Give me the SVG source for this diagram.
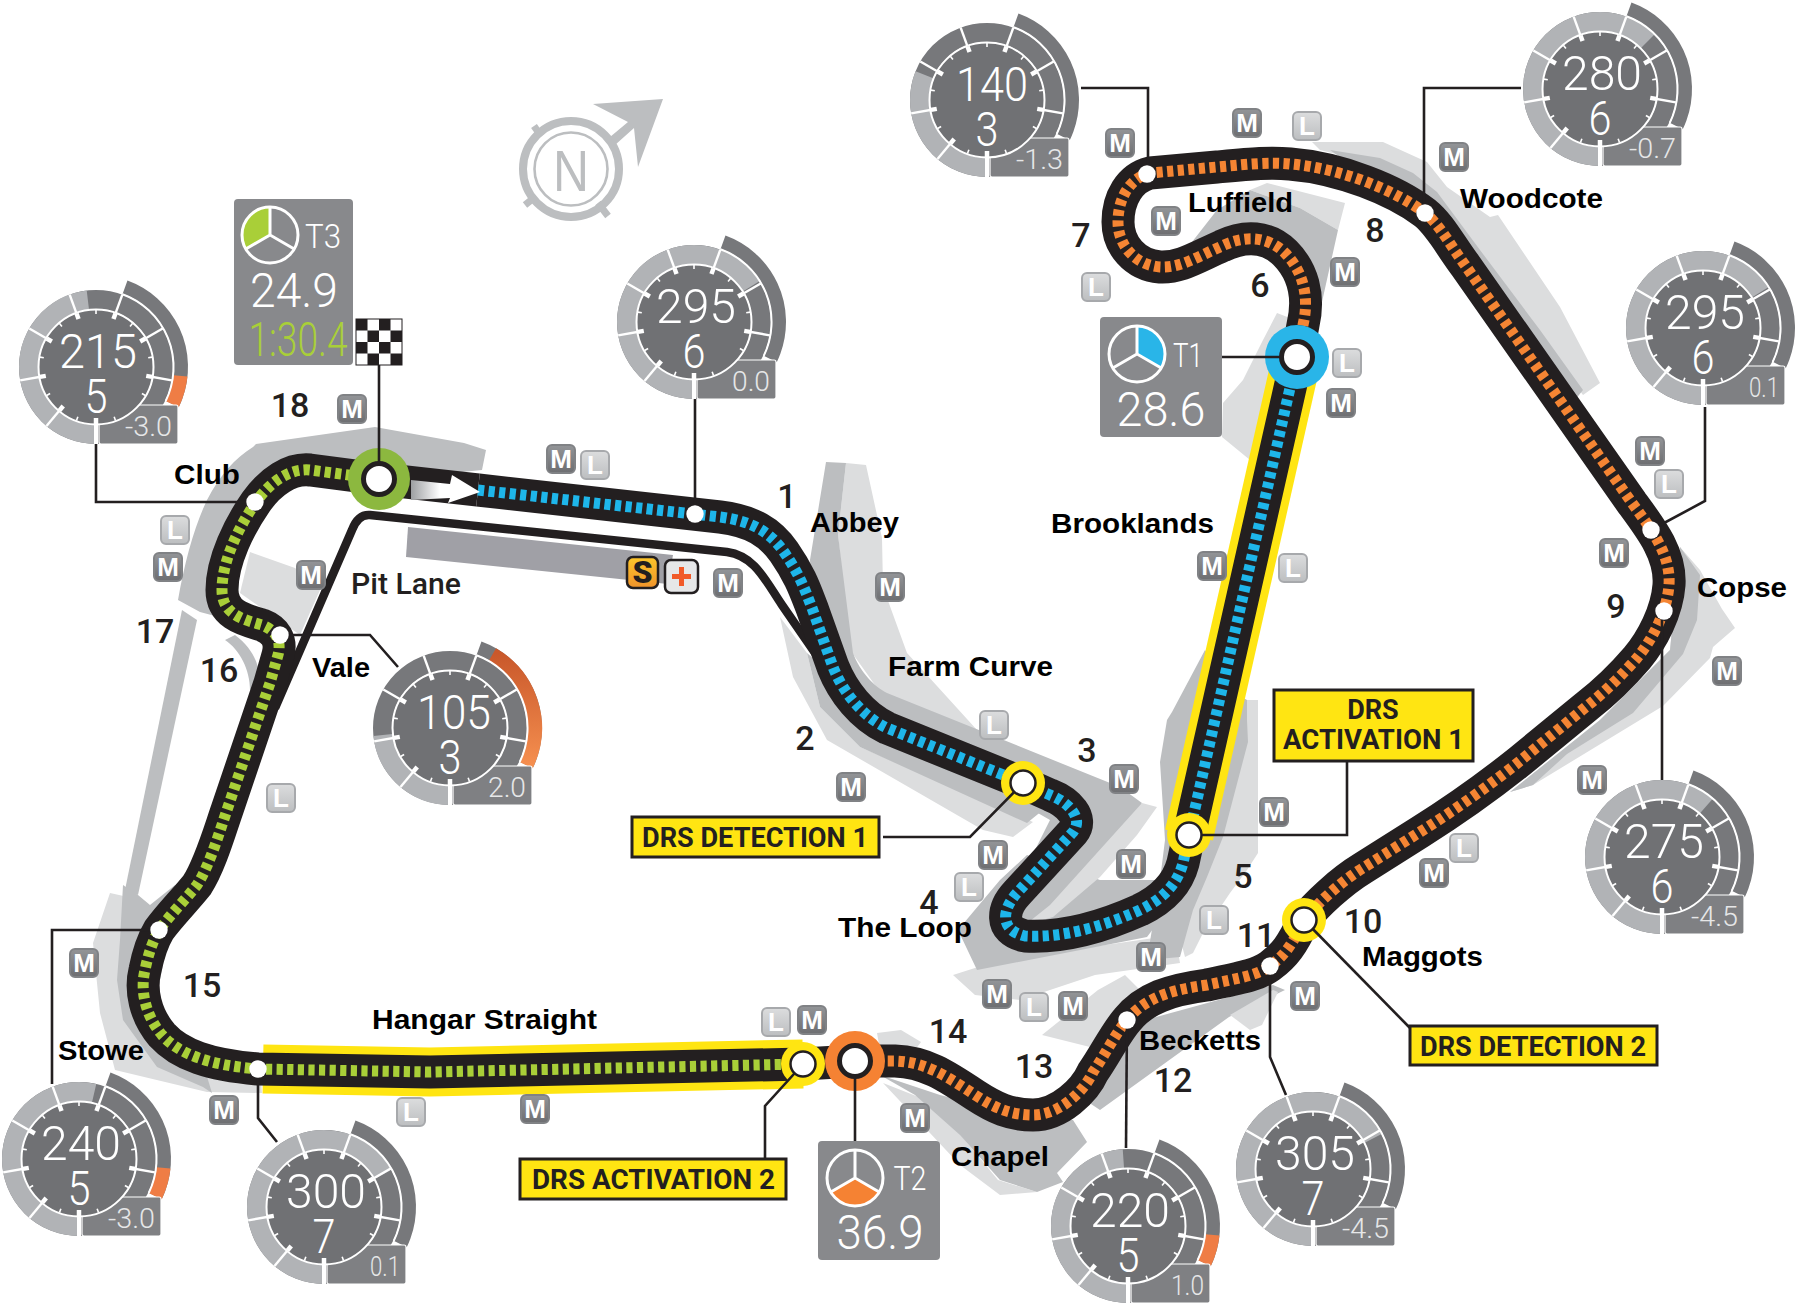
<svg xmlns="http://www.w3.org/2000/svg" width="1799" height="1306" viewBox="0 0 1799 1306">
<style>
.dk{fill:#bcbec0}.lt{fill:#dcddde}
.bed{fill:none;stroke:#231f20;stroke-width:33;stroke-linejoin:round}
.drs{fill:none;stroke:#ffe512;stroke-width:49}
.dash{fill:none;stroke-width:11;stroke-dasharray:6.200 4.400}
.blue{stroke:#1eb6ea}.orange{stroke:#f58533}.green{stroke:#a9cf38}
.pit{fill:none;stroke:#231f20;stroke-width:8.5;stroke-linejoin:round}
.ld{fill:none;stroke:#231f20;stroke-width:2.6;stroke-linejoin:miter}
.w{fill:#fff}.wr{fill:#fff;stroke:#231f20;stroke-width:5}.wd{fill:#fff;stroke:#231f20;stroke-width:2.5}
.nm{font-family:"Liberation Sans",Arial,sans-serif;font-weight:700;font-size:28.5px;fill:#000}
.num{font-family:Roboto,"Liberation Sans",sans-serif;font-weight:500;font-size:34px;fill:#231f20;text-anchor:middle}
.pl{font-family:Roboto,"Liberation Sans",sans-serif;font-weight:500;font-size:29px;fill:#231f20}
.dl{font-family:Roboto,"Liberation Sans",sans-serif;font-weight:700;font-size:27px;fill:#231f20}
.dbox{fill:#ffe512;stroke:#231f20;stroke-width:3}
.tyre text{font-family:"Liberation Sans",Arial,sans-serif;font-weight:700;font-size:26px;fill:#fff;text-anchor:middle}
.lcd{font-family:Roboto,"Liberation Sans",sans-serif;font-weight:300;font-size:49px;fill:#fff;text-anchor:middle}
.val{font-family:Roboto,"Liberation Sans",sans-serif;font-weight:300;font-size:27px;fill:#e6e7e8;text-anchor:end}
.sm{font-size:34px}
.ring{fill:none;stroke:#77787b;stroke-width:19}
.lit{fill:none;stroke:#b1b3b6;stroke-width:19}
.band{fill:none;stroke:#77787b;stroke-width:14}
.hot{fill:none;stroke:#ef7d45;stroke-width:14}
.sep{stroke:#fff;stroke-width:2.4}
.maj{stroke:#fff;stroke-width:4.5}
.min{stroke:#fff;stroke-width:1.6}
.disc{fill:#707174;stroke:#fff;stroke-width:2}
.vbox{fill:#7f8083;stroke:#fff;stroke-width:1.2}
.tbox{fill:#88898c}
.star{fill:none;stroke:#fff;stroke-width:3}
.cmp{fill:none;stroke:#bcbec0}
</style>
<defs>
<linearGradient id="fadeW" gradientUnits="userSpaceOnUse" x1="411" y1="0" x2="440" y2="0"><stop offset="0" stop-color="#9d9fa2"/><stop offset="1" stop-color="#fff"/></linearGradient>
<linearGradient id="gM" x1="0" y1="0" x2="0" y2="1"><stop offset="0" stop-color="#939598"/><stop offset="1" stop-color="#6d6e71"/></linearGradient>
<linearGradient id="gL" x1="0" y1="0" x2="0" y2="1"><stop offset="0" stop-color="#dcddde"/><stop offset="1" stop-color="#bcbec0"/></linearGradient>
<linearGradient id="gS" x1="0" y1="0" x2="0" y2="1"><stop offset="0" stop-color="#fdc62a"/><stop offset="1" stop-color="#f0932b"/></linearGradient>
<linearGradient id="gHot" gradientUnits="userSpaceOnUse" x1="0" y1="-74" x2="0" y2="37"><stop offset="0" stop-color="#c9582b"/><stop offset="1" stop-color="#f58f4f"/></linearGradient>
<rect id="tm" x="-14" y="-14" width="28" height="28" rx="5" fill="url(#gM)" stroke="#808285" stroke-width="2"/>
<rect id="tl" x="-14" y="-14" width="28" height="28" rx="5" fill="url(#gL)" stroke="#a7a9ac" stroke-width="2"/>
<path id="s1" d="M478 490L720 517C752 521 770 532 784 552C800 575 805 590 812 608L833 667C843 692 862 716 887 728L1023 783L1050 795C1068 802 1084 818 1073 832L1017 893C1003 908 998 930 1025 936C1060 938 1100 928 1140 910C1165 898 1178 882 1183 863L1189 835L1297 357"/>
<path id="s2" d="M1297 357L1303 325C1310 295 1302 270 1285 253C1268 236 1245 235 1222 246C1195 258 1180 268 1160 267C1135 265 1118 245 1118 222C1118 198 1130 178 1150 173L1217 167C1250 164 1270 162 1290 164C1340 168 1395 190 1425 213C1440 225 1450 245 1465 265L1632 503C1652 530 1671 555 1669 585C1667 612 1652 640 1637 658C1625 672 1605 692 1587 706L1520 761C1490 785 1455 810 1420 832L1363 868C1340 882 1316 905 1304 920C1292 945 1285 955 1270 966C1258 975 1240 978 1207 985C1170 990 1145 998 1127 1020C1115 1034 1105 1055 1093 1072C1085 1090 1060 1115 1033 1115C1010 1115 995 1108 975 1095C945 1075 925 1062 895 1061L855 1061"/>
<path id="s3" d="M855 1061L803 1064L430 1072L258 1069C210 1065 180 1055 162 1035C145 1015 140 990 145 970C148 955 153 940 159 930C170 915 185 900 197 885C210 865 220 830 227 810L270 683L278 655C282 640 275 630 262 625C245 620 222 615 222 590C222 560 240 525 256 502C270 482 290 468 310 470L379 479"/>
<g id="g-under"><circle class="band" r="85" pathLength="360" stroke-dasharray="96 360" transform="rotate(-70)"/><circle class="ring" r="67.5"/></g>
<g id="g-top">
<path d="M26.5 -72.8A77.5 77.5 0 0 1 69.7 34" fill="none" stroke="#fff" stroke-width="2"/>
<rect class="vbox" x="3" y="38" width="79" height="39" rx="2"/>
<line x1="0" y1="50" x2="0" y2="77" stroke="#fff" stroke-width="4"/>
<line class="sep" y1="-52" y2="-77" transform="rotate(220)"/><line class="sep" y1="-52" y2="-77" transform="rotate(260)"/><line class="sep" y1="-52" y2="-77" transform="rotate(300)"/><line class="sep" y1="-52" y2="-77" transform="rotate(340)"/><line class="sep" y1="-52" y2="-77" transform="rotate(20)"/><line class="sep" y1="-52" y2="-77" transform="rotate(60)"/><line class="sep" y1="-52" y2="-77" transform="rotate(100)"/>
<circle class="disc" r="57.5"/>
<line class="maj" y1="-51" y2="-57" transform="rotate(220)"/><line class="maj" y1="-51" y2="-57" transform="rotate(260)"/><line class="maj" y1="-51" y2="-57" transform="rotate(300)"/><line class="maj" y1="-51" y2="-57" transform="rotate(340)"/><line class="maj" y1="-51" y2="-57" transform="rotate(20)"/><line class="maj" y1="-51" y2="-57" transform="rotate(60)"/><line class="maj" y1="-51" y2="-57" transform="rotate(100)"/><line class="maj" y1="-51" y2="-57" transform="rotate(180)"/>
<line class="min" y1="-53" y2="-57" transform="rotate(200)"/><line class="min" y1="-53" y2="-57" transform="rotate(240)"/><line class="min" y1="-53" y2="-57" transform="rotate(280)"/><line class="min" y1="-53" y2="-57" transform="rotate(320)"/><line class="min" y1="-53" y2="-57"/><line class="min" y1="-53" y2="-57" transform="rotate(40)"/><line class="min" y1="-53" y2="-57" transform="rotate(80)"/><line class="min" y1="-53" y2="-57" transform="rotate(120)"/><line class="min" y1="-53" y2="-57" transform="rotate(160)"/>
</g>
<path id="g-hot" d="M84.5 8.9A85 85 0 0 1 76.4 37.3"/>
<g id="star"><circle class="star" r="28"/><path class="star" d="M0 -28V0L24.2 14M0 0L-24.2 14"/></g>
</defs>

<g id="runoff">
<path class="lt" d="M250 552L295 568L320 590L300 635L240 593Z"/>
<path class="dk" d="M178 600C185 560 195 525 207 500C220 475 235 458 253 447L256 444L375 427L464 443L486 450L482 470L380 480L310 470L256 502L222 590L230 620L200 612Z"/>
<path class="dk" d="M182 610L197 620L138 895L125 890Z"/>
<path class="dk" d="M235 635C255 650 262 670 258 685L250 690C250 670 240 650 225 640Z"/>
<path class="lt" d="M110 893L128 897L140 930L150 1000L200 1060L260 1070L262 1093L207 1092L115 1070L100 1013L93 943Z"/>
<path class="dk" d="M123 885L138 895L150 905L175 885L170 930L150 1030L205 1070L212 1093L203 1087L157 1067L123 1020L117 980L120 940Z"/>
<path class="lt" d="M877 1033L901 1030L921 1042L915 1050L880 1050Z"/>
<path class="lt" d="M883 1083L934 1103L998 1180L1037 1192L1000 1195L960 1165Z"/>
<path class="dk" d="M880 1075L940 1095L1000 1110L1073 1120L1087 1142L1057 1173L1063 1182L1037 1192L1000 1180L960 1135L915 1095Z"/>
<path class="dk" d="M1127 1025L1273 985L1285 990L1229 1017L1100 1110L1085 1100Z"/>
<path class="lt" d="M1230 1015L1273 990L1278 992L1262 1025L1250 1030Z"/>
<path class="lt" d="M1042 1035L1098 990L1125 975L1140 990L1120 1010L1090 1047Z"/>
<path class="lt" d="M953 975L975 995L1020 1000L1095 975L1180 963L1175 935L1000 960Z"/>
<path class="dk" d="M1027 855L1000 880L958 930L977 970L1147 937L1190 880L1100 880Z"/>
<path class="lt" d="M866 465L882 538L883 587L907 653L977 730L1130 795L1060 800L900 720L850 650L838 535L846 463Z"/>
<path class="dk" d="M826 462L846 463L838 535L853 653C860 672 875 687 887 693L1120 787L1142 803L1120 840L1085 875L1050 905L1030 920L1010 900L1050 820L980 780L860 720L815 640L810 560Z"/>
<path class="lt" d="M1142 803L1157 807L1137 835L1100 877L1053 917L1025 925L1050 905Z"/>
<path class="lt" d="M780 617L793 677L827 740L983 830L1013 837L1033 822L860 747L820 707L807 653Z"/>
<path class="dk" d="M807 653L820 707L860 747L1027 823L1043 810L900 740L850 690Z"/>
<path class="lt" d="M1258 700L1258 853L1247 870L1230 893L1203 933L1193 953L1185 957L1170 900L1230 780L1235 700Z"/>
<path class="dk" d="M1247 700L1247 720L1248 742L1223 837L1207 877L1193 910L1180 957L1147 960L1160 880L1165 840L1160 762L1167 720L1172 712L1205 650L1230 690Z"/>
<path class="lt" d="M1277 313L1263 340L1243 380L1223 403L1222 437L1250 460L1290 400L1295 320Z"/>
<path class="lt" d="M1267 183L1345 203L1338 230L1300 208L1250 190Z"/>
<path class="dk" d="M1192 242L1217 210L1250 190L1300 208L1338 230L1318 320L1305 330L1300 270L1270 240L1240 235Z"/>
<path class="lt" d="M1312 142L1383 142L1427 162L1447 187L1490 217L1498 215L1560 307L1600 383L1583 395L1470 250L1400 170L1320 150Z"/>
<path class="dk" d="M1330 150L1380 158L1413 173L1437 192L1480 250L1540 330L1583 390L1575 400L1400 200Z"/>
<path class="lt" d="M1680 547L1700 570L1722 609L1735 628L1713 647L1710 658L1663 706L1533 785L1510 792L1600 720L1670 650Z"/>
<path class="dk" d="M1680 547L1700 575L1697 620L1683 654L1633 713L1567 754L1533 785L1510 792L1600 720L1670 650Z"/>
</g>

<g id="pit-building"><path fill="#a0a0a6" d="M408 527L673 555L668 584L406 557Z"/></g>
<g id="compass">
<circle class="cmp" cx="571" cy="169" r="48" stroke-width="8"/>
<circle class="cmp" cx="571" cy="169" r="36.5" stroke-width="2.6"/>
<path class="cmp" stroke-width="7" d="M541 136L534 126M535 197L525 205M598 203L608 216"/>
<path fill="#bcbec0" d="M593 104L663 99L638 167L634 128L615 145L610 137L628 122Z"/>
<text x="571" y="191" text-anchor="middle" font-family="'Liberation Sans',Arial,sans-serif" font-size="58" fill="#bcbec0" textLength="36" lengthAdjust="spacingAndGlyphs">N</text>
</g>

<g id="track">
<path class="pit" d="M820 660L782 605C765 580 755 556 727 552L370 515Q358 514 352 530L275 708"/>
<path class="drs" d="M263 1069L430 1072L803 1064"/>
<path class="drs" d="M1189 835L1297 357"/>
<path class="bed" d="M379 479L478 490"/>
<use href="#s1" class="bed"/><use href="#s2" class="bed"/><use href="#s3" class="bed"/>
<use href="#s1" class="dash blue"/><use href="#s2" class="dash orange"/><use href="#s3" class="dash green"/>
<path fill="url(#fadeW)" d="M411 480L450 484L452 475L480 492L448 503L450 498L411 500Z"/>
</g>

<g id="marker-rings">
<circle cx="379" cy="479" r="31" fill="#8cb83f"/>
<circle cx="1297" cy="357" r="32" fill="#29b5e8"/>
<circle cx="855" cy="1061" r="30" fill="#f58233"/>
<circle cx="1023" cy="783" r="22" fill="#ffe512"/>
<circle cx="1189" cy="835" r="22" fill="#ffe512"/>
<circle cx="803" cy="1064" r="22" fill="#ffe512"/>
<circle cx="1304" cy="920" r="22" fill="#ffe512"/>
</g>

<g id="connectors">
<path class="ld" d="M96 443V502H255"/>
<path class="ld" d="M379 365V479"/>
<path class="ld" d="M695 399V514"/>
<path class="ld" d="M1081 88H1148V174"/>
<path class="ld" d="M1521 88H1424V213"/>
<path class="ld" d="M1705 407V501L1651 530"/>
<path class="ld" d="M1662 611V780"/>
<path class="ld" d="M280 635H370L398 667"/>
<path class="ld" d="M159 930H52V1084"/>
<path class="ld" d="M258 1069V1118L277 1142"/>
<path class="ld" d="M803 1064L765 1106V1160"/>
<path class="ld" d="M855 1061V1141"/>
<path class="ld" d="M1127 1019L1126 1148"/>
<path class="ld" d="M1270 966V1057L1286 1095"/>
<path class="ld" d="M1304 920L1410 1028"/>
<path class="ld" d="M1189 835H1347V761"/>
<path class="ld" d="M1023 783L970 837H883"/>
<path class="ld" d="M1222 357H1297"/>
</g>

<g id="markers">
<circle class="wr" cx="379" cy="479" r="15.5"/>
<circle class="wr" cx="1297" cy="357" r="15.5"/>
<circle class="wr" cx="855" cy="1061" r="15.5"/>
<circle class="wd" cx="1023" cy="783" r="12.5"/>
<circle class="wd" cx="1189" cy="835" r="12.5"/>
<circle class="wd" cx="803" cy="1064" r="12.5"/>
<circle class="wd" cx="1304" cy="920" r="12.5"/>
<circle class="w" cx="255" cy="502" r="8.7"/><circle class="w" cx="695" cy="514" r="8.7"/><circle class="w" cx="1147" cy="174" r="8.7"/><circle class="w" cx="1425" cy="213" r="8.7"/><circle class="w" cx="1651" cy="530" r="8.7"/><circle class="w" cx="1664" cy="611" r="8.7"/><circle class="w" cx="1270" cy="966" r="8.7"/><circle class="w" cx="1127" cy="1020" r="8.7"/><circle class="w" cx="258" cy="1069" r="8.7"/><circle class="w" cx="159" cy="930" r="8.7"/><circle class="w" cx="280" cy="635" r="8.7"/>
</g>

<g id="tyres">
<g class="tyre" transform="translate(352 409)"><use href="#tm"/><text y="9">M</text></g>
<g class="tyre" transform="translate(561 459)"><use href="#tm"/><text y="9">M</text></g>
<g class="tyre" transform="translate(595 465)"><use href="#tl"/><text y="9">L</text></g>
<g class="tyre" transform="translate(175 530)"><use href="#tl"/><text y="9">L</text></g>
<g class="tyre" transform="translate(168 567)"><use href="#tm"/><text y="9">M</text></g>
<g class="tyre" transform="translate(311 575)"><use href="#tm"/><text y="9">M</text></g>
<g class="tyre" transform="translate(728 583)"><use href="#tm"/><text y="9">M</text></g>
<g class="tyre" transform="translate(890 587)"><use href="#tm"/><text y="9">M</text></g>
<g class="tyre" transform="translate(994 725)"><use href="#tl"/><text y="9">L</text></g>
<g class="tyre" transform="translate(851 787)"><use href="#tm"/><text y="9">M</text></g>
<g class="tyre" transform="translate(281 798)"><use href="#tl"/><text y="9">L</text></g>
<g class="tyre" transform="translate(1124 779)"><use href="#tm"/><text y="9">M</text></g>
<g class="tyre" transform="translate(993 855)"><use href="#tm"/><text y="9">M</text></g>
<g class="tyre" transform="translate(969 887)"><use href="#tl"/><text y="9">L</text></g>
<g class="tyre" transform="translate(1131 864)"><use href="#tm"/><text y="9">M</text></g>
<g class="tyre" transform="translate(1274 812)"><use href="#tm"/><text y="9">M</text></g>
<g class="tyre" transform="translate(1214 920)"><use href="#tl"/><text y="9">L</text></g>
<g class="tyre" transform="translate(1151 957)"><use href="#tm"/><text y="9">M</text></g>
<g class="tyre" transform="translate(997 994)"><use href="#tm"/><text y="9">M</text></g>
<g class="tyre" transform="translate(1034 1007)"><use href="#tl"/><text y="9">L</text></g>
<g class="tyre" transform="translate(1073 1006)"><use href="#tm"/><text y="9">M</text></g>
<g class="tyre" transform="translate(1305 996)"><use href="#tm"/><text y="9">M</text></g>
<g class="tyre" transform="translate(1434 873)"><use href="#tm"/><text y="9">M</text></g>
<g class="tyre" transform="translate(1464 848)"><use href="#tl"/><text y="9">L</text></g>
<g class="tyre" transform="translate(1592 780)"><use href="#tm"/><text y="9">M</text></g>
<g class="tyre" transform="translate(1727 671)"><use href="#tm"/><text y="9">M</text></g>
<g class="tyre" transform="translate(1614 553)"><use href="#tm"/><text y="9">M</text></g>
<g class="tyre" transform="translate(1650 451)"><use href="#tm"/><text y="9">M</text></g>
<g class="tyre" transform="translate(1669 484)"><use href="#tl"/><text y="9">L</text></g>
<g class="tyre" transform="translate(1212 566)"><use href="#tm"/><text y="9">M</text></g>
<g class="tyre" transform="translate(1293 568)"><use href="#tl"/><text y="9">L</text></g>
<g class="tyre" transform="translate(1347 363)"><use href="#tl"/><text y="9">L</text></g>
<g class="tyre" transform="translate(1341 403)"><use href="#tm"/><text y="9">M</text></g>
<g class="tyre" transform="translate(1345 272)"><use href="#tm"/><text y="9">M</text></g>
<g class="tyre" transform="translate(1096 287)"><use href="#tl"/><text y="9">L</text></g>
<g class="tyre" transform="translate(1166 221)"><use href="#tm"/><text y="9">M</text></g>
<g class="tyre" transform="translate(1120 143)"><use href="#tm"/><text y="9">M</text></g>
<g class="tyre" transform="translate(1247 123)"><use href="#tm"/><text y="9">M</text></g>
<g class="tyre" transform="translate(1307 126)"><use href="#tl"/><text y="9">L</text></g>
<g class="tyre" transform="translate(1454 157)"><use href="#tm"/><text y="9">M</text></g>
<g class="tyre" transform="translate(84 963)"><use href="#tm"/><text y="9">M</text></g>
<g class="tyre" transform="translate(224 1110)"><use href="#tm"/><text y="9">M</text></g>
<g class="tyre" transform="translate(411 1112)"><use href="#tl"/><text y="9">L</text></g>
<g class="tyre" transform="translate(535 1109)"><use href="#tm"/><text y="9">M</text></g>
<g class="tyre" transform="translate(776 1022)"><use href="#tl"/><text y="9">L</text></g>
<g class="tyre" transform="translate(812 1020)"><use href="#tm"/><text y="9">M</text></g>
<g class="tyre" transform="translate(915 1118)"><use href="#tm"/><text y="9">M</text></g>
</g>

<g id="safety-medical">
<rect x="627" y="557" width="31" height="31" rx="6" fill="url(#gS)" stroke="#231f20" stroke-width="2.5"/>
<text x="642.5" y="583" text-anchor="middle" font-family="Roboto,'Liberation Sans',sans-serif" font-weight="900" font-size="32" fill="#231f20">S</text>
<rect x="665" y="560" width="33" height="33" rx="6" fill="#e6e7e8" stroke="#231f20" stroke-width="2.5"/>
<path fill="#f15a29" d="M679 567H684V574H691V579H684V586H679V579H672V574H679Z"/>
</g>

<g id="flag">
<rect x="356" y="319" width="46" height="46" fill="#fff" stroke="#231f20" stroke-width="1"/>
<path fill="#231f20" d="M356 319h11.500v11.500h-11.500zM379 319h11.500v11.500h-11.500zM367.500 330.500h11.500v11.500h-11.500zM390.500 330.500h11.500v11.500h-11.500zM356 342h11.500v11.500h-11.500zM379 342h11.500v11.500h-11.500zM367.500 353.500h11.500v11.500h-11.500zM390.500 353.500h11.500v11.500h-11.500z"/>
</g>

<g id="sector-t3">
<rect class="tbox" x="234" y="199" width="119" height="166" rx="4"/>
<g transform="translate(270 235)"><path fill="#a9cf38" d="M0 0V-28A28 28 0 0 0 -24.200 14Z"/><use href="#star"/></g>
<text class="lcd sm" x="323" y="248" textLength="36" lengthAdjust="spacingAndGlyphs">T3</text>
<text class="lcd" x="294" y="307" textLength="88" lengthAdjust="spacingAndGlyphs">24.9</text>
<text class="lcd" x="298" y="356" style="fill:#a9cf38" textLength="99" lengthAdjust="spacingAndGlyphs">1:30.4</text>
</g>
<g id="sector-t1">
<rect class="tbox" x="1100" y="317" width="122" height="120" rx="4"/>
<g transform="translate(1137 354)"><path fill="#29b5e8" d="M0 0V-28A28 28 0 0 1 24.200 14Z"/><use href="#star"/></g>
<text class="lcd sm" x="1188" y="367" textLength="30" lengthAdjust="spacingAndGlyphs">T1</text>
<text class="lcd" x="1161" y="426" textLength="89" lengthAdjust="spacingAndGlyphs">28.6</text>
</g>
<g id="sector-t2">
<rect class="tbox" x="818" y="1141" width="122" height="119" rx="4"/>
<g transform="translate(855 1178)"><path fill="#f58233" d="M0 0L24.200 14A28 28 0 0 1 -24.200 14Z"/><use href="#star"/></g>
<text class="lcd sm" x="910" y="1190" textLength="33" lengthAdjust="spacingAndGlyphs">T2</text>
<text class="lcd" x="880" y="1249" textLength="87" lengthAdjust="spacingAndGlyphs">36.9</text>
</g>

<g id="gauge-club" transform="translate(96 367)"><use href="#g-under"/><circle class="lit" r="67.5" pathLength="360" stroke-dasharray="173 360" transform="rotate(90)"/><use href="#g-hot" class="hot"/><use href="#g-top"/><text class="lcd" x="2" y="1" textLength="78" lengthAdjust="spacingAndGlyphs">215</text><text class="lcd" y="46" textLength="23" lengthAdjust="spacingAndGlyphs">5</text><text class="val" x="76" y="69" textLength="47" lengthAdjust="spacingAndGlyphs">-3.0</text></g>
<g id="gauge-abbey" transform="translate(694 322)"><use href="#g-under"/><circle class="lit" r="67.5" pathLength="360" stroke-dasharray="238 360" transform="rotate(90)"/><use href="#g-top"/><text class="lcd" x="2" y="1" textLength="80" lengthAdjust="spacingAndGlyphs">295</text><text class="lcd" y="46" textLength="23" lengthAdjust="spacingAndGlyphs">6</text><text class="val" x="76" y="69" textLength="38" lengthAdjust="spacingAndGlyphs">0.0</text></g>
<g id="gauge-luffield" transform="translate(987 100)"><use href="#g-under"/><circle class="lit" r="67.5" pathLength="360" stroke-dasharray="112 360" transform="rotate(90)"/><use href="#g-top"/><text class="lcd" x="5" y="1" textLength="72" lengthAdjust="spacingAndGlyphs">140</text><text class="lcd" y="46" textLength="23" lengthAdjust="spacingAndGlyphs">3</text><text class="val" x="76" y="69" textLength="47" lengthAdjust="spacingAndGlyphs">-1.3</text></g>
<g id="gauge-woodcote" transform="translate(1600 89)"><use href="#g-under"/><circle class="lit" r="67.5" pathLength="360" stroke-dasharray="225 360" transform="rotate(90)"/><use href="#g-top"/><text class="lcd" x="2" y="1" textLength="80" lengthAdjust="spacingAndGlyphs">280</text><text class="lcd" y="46" textLength="23" lengthAdjust="spacingAndGlyphs">6</text><text class="val" x="76" y="69" textLength="47" lengthAdjust="spacingAndGlyphs">-0.7</text></g>
<g id="gauge-copse-in" transform="translate(1703 328)"><use href="#g-under"/><circle class="lit" r="67.5" pathLength="360" stroke-dasharray="238 360" transform="rotate(90)"/><use href="#g-top"/><text class="lcd" x="2" y="1" textLength="80" lengthAdjust="spacingAndGlyphs">295</text><text class="lcd" y="46" textLength="23" lengthAdjust="spacingAndGlyphs">6</text><text class="val" x="76" y="69" textLength="30" lengthAdjust="spacingAndGlyphs">0.1</text></g>
<g id="gauge-copse-out" transform="translate(1662 857)"><use href="#g-under"/><circle class="lit" r="67.5" pathLength="360" stroke-dasharray="221 360" transform="rotate(90)"/><use href="#g-top"/><text class="lcd" x="2" y="1" textLength="80" lengthAdjust="spacingAndGlyphs">275</text><text class="lcd" y="46" textLength="23" lengthAdjust="spacingAndGlyphs">6</text><text class="val" x="76" y="69" textLength="47" lengthAdjust="spacingAndGlyphs">-4.5</text></g>
<g id="gauge-vale" transform="translate(450 728)"><use href="#g-under"/><circle class="lit" r="67.5" pathLength="360" stroke-dasharray="84 360" transform="rotate(90)"/><path d="M42.500 -73.600A85 85 0 0 1 76.400 37.300" fill="none" stroke="url(#gHot)" stroke-width="14"/><use href="#g-top"/><text class="lcd" x="4" y="1" textLength="74" lengthAdjust="spacingAndGlyphs">105</text><text class="lcd" y="46" textLength="23" lengthAdjust="spacingAndGlyphs">3</text><text class="val" x="76" y="69" textLength="38" lengthAdjust="spacingAndGlyphs">2.0</text></g>
<g id="gauge-stowe" transform="translate(79 1159)"><use href="#g-under"/><circle class="lit" r="67.5" pathLength="360" stroke-dasharray="193 360" transform="rotate(90)"/><use href="#g-hot" class="hot"/><use href="#g-top"/><text class="lcd" x="2" y="1" textLength="80" lengthAdjust="spacingAndGlyphs">240</text><text class="lcd" y="46" textLength="23" lengthAdjust="spacingAndGlyphs">5</text><text class="val" x="76" y="69" textLength="47" lengthAdjust="spacingAndGlyphs">-3.0</text></g>
<g id="gauge-hangar" transform="translate(324 1207)"><use href="#g-under"/><circle class="lit" r="67.5" pathLength="360" stroke-dasharray="241 360" transform="rotate(90)"/><use href="#g-top"/><text class="lcd" x="2" y="1" textLength="80" lengthAdjust="spacingAndGlyphs">300</text><text class="lcd" y="46" textLength="23" lengthAdjust="spacingAndGlyphs">7</text><text class="val" x="76" y="69" textLength="30" lengthAdjust="spacingAndGlyphs">0.1</text></g>
<g id="gauge-becketts" transform="translate(1128 1226)"><use href="#g-under"/><circle class="lit" r="67.5" pathLength="360" stroke-dasharray="176 360" transform="rotate(90)"/><use href="#g-hot" class="hot"/><use href="#g-top"/><text class="lcd" x="2" y="1" textLength="80" lengthAdjust="spacingAndGlyphs">220</text><text class="lcd" y="46" textLength="23" lengthAdjust="spacingAndGlyphs">5</text><text class="val" x="76" y="69" textLength="33" lengthAdjust="spacingAndGlyphs">1.0</text></g>
<g id="gauge-maggots" transform="translate(1313 1169)"><use href="#g-under"/><circle class="lit" r="67.5" pathLength="360" stroke-dasharray="243 360" transform="rotate(90)"/><use href="#g-top"/><text class="lcd" x="2" y="1" textLength="80" lengthAdjust="spacingAndGlyphs">305</text><text class="lcd" y="46" textLength="23" lengthAdjust="spacingAndGlyphs">7</text><text class="val" x="76" y="69" textLength="47" lengthAdjust="spacingAndGlyphs">-4.5</text></g>

<g id="drs-labels">
<g id="drs-detection-1"><rect class="dbox" x="632" y="817" width="247" height="40"/><text class="dl" x="642" y="847" textLength="226" lengthAdjust="spacingAndGlyphs">DRS DETECTION 1</text></g>
<g id="drs-activation-2"><rect class="dbox" x="520" y="1159" width="266" height="40"/><text class="dl" x="532" y="1189" textLength="243" lengthAdjust="spacingAndGlyphs">DRS ACTIVATION 2</text></g>
<g id="drs-detection-2"><rect class="dbox" x="1410" y="1026" width="247" height="39"/><text class="dl" x="1420" y="1056" textLength="226" lengthAdjust="spacingAndGlyphs">DRS DETECTION 2</text></g>
<g id="drs-activation-1"><rect class="dbox" x="1274" y="690" width="199" height="71"/><text class="dl" x="1373" y="719" text-anchor="middle">DRS</text><text class="dl" x="1283" y="749" textLength="181" lengthAdjust="spacingAndGlyphs">ACTIVATION 1</text></g>
</g>

<g id="labels">
<text class="nm" x="174" y="484" textLength="66" lengthAdjust="spacingAndGlyphs">Club</text>
<text class="pl" x="351" y="594" textLength="110" lengthAdjust="spacingAndGlyphs">Pit Lane</text>
<text class="nm" x="312" y="677" textLength="58" lengthAdjust="spacingAndGlyphs">Vale</text>
<text class="nm" x="810" y="532" textLength="89" lengthAdjust="spacingAndGlyphs">Abbey</text>
<text class="nm" x="888" y="676" textLength="165" lengthAdjust="spacingAndGlyphs">Farm Curve</text>
<text class="nm" x="1051" y="533" textLength="163" lengthAdjust="spacingAndGlyphs">Brooklands</text>
<text class="nm" x="1188" y="212" textLength="105" lengthAdjust="spacingAndGlyphs">Luffield</text>
<text class="nm" x="1460" y="208" textLength="143" lengthAdjust="spacingAndGlyphs">Woodcote</text>
<text class="nm" x="1697" y="597" textLength="90" lengthAdjust="spacingAndGlyphs">Copse</text>
<text class="nm" x="1362" y="966" textLength="121" lengthAdjust="spacingAndGlyphs">Maggots</text>
<text class="nm" x="1139" y="1050" textLength="122" lengthAdjust="spacingAndGlyphs">Becketts</text>
<text class="nm" x="951" y="1166" textLength="98" lengthAdjust="spacingAndGlyphs">Chapel</text>
<text class="nm" x="838" y="937" textLength="134" lengthAdjust="spacingAndGlyphs">The Loop</text>
<text class="nm" x="58" y="1060" textLength="86" lengthAdjust="spacingAndGlyphs">Stowe</text>
<text class="nm" x="372" y="1029" textLength="225" lengthAdjust="spacingAndGlyphs">Hangar Straight</text>
<text class="num" x="290" y="417">18</text>
<text class="num" x="787" y="508">1</text>
<text class="num" x="805" y="750">2</text>
<text class="num" x="1087" y="762">3</text>
<text class="num" x="929" y="914">4</text>
<text class="num" x="1243" y="888">5</text>
<text class="num" x="1260" y="297">6</text>
<text class="num" x="1081" y="247">7</text>
<text class="num" x="1375" y="242">8</text>
<text class="num" x="1616" y="618">9</text>
<text class="num" x="1363" y="933">10</text>
<text class="num" x="1256" y="947">11</text>
<text class="num" x="1173" y="1092">12</text>
<text class="num" x="1034" y="1078">13</text>
<text class="num" x="948" y="1043">14</text>
<text class="num" x="202" y="997">15</text>
<text class="num" x="219" y="682">16</text>
<text class="num" x="155" y="643">17</text>
</g>
</svg>
